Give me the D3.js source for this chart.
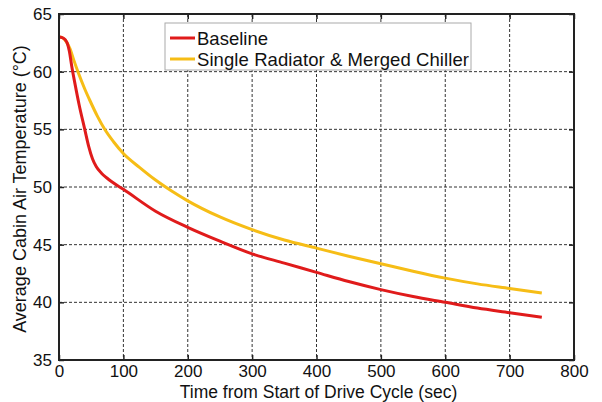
<!DOCTYPE html>
<meta charset="utf-8">
<head>
<script src="https://cdn.jsdelivr.net/npm/d3@7"></script>
</head>
<style>
  body { margin: 0; background: white; }
  text { font-family: "Liberation Sans", Arial, sans-serif; fill: #111; }
  .grid line { stroke: #333; stroke-dasharray: 3,2; stroke-width: 1; }
</style>
<body>
<div id="chart"></div>
<script>
// time (sec) and cabin air temperature (°C)
var baselineT = [0, 5, 10, 13, 16, 20, 25, 31, 40, 46, 52, 58, 66, 74, 82, 100, 150, 200, 250, 300, 350, 400, 450, 500, 550, 600, 650, 700, 750];
var baselineV = [63, 62.95, 62.75, 62.45, 61.8, 60.4, 58.9, 57.2, 55.0, 53.55, 52.45, 51.75, 51.2, 50.8, 50.45, 49.8, 47.9, 46.5, 45.3, 44.2, 43.4, 42.6, 41.8, 41.1, 40.5, 40.0, 39.5, 39.1, 38.7];
var mergedT = [0, 5, 10, 17, 23, 30, 40, 48, 60, 71, 85, 100, 125, 150, 175, 200, 250, 300, 350, 400, 450, 500, 550, 600, 650, 700, 750];
var mergedV = [63, 62.95, 62.7, 62.0, 61.0, 59.9, 58.5, 57.5, 56.1, 55.0, 53.9, 52.9, 51.7, 50.6, 49.65, 48.8, 47.4, 46.3, 45.4, 44.7, 44.0, 43.35, 42.7, 42.1, 41.6, 41.2, 40.8];
var xTicks = [0, 100, 200, 300, 400, 500, 600, 700, 800];
var yTicks = [35, 40, 45, 50, 55, 60, 65];
var seriesNames = ["Baseline", "Single Radiator & Merged Chiller"];
var seriesColors = ["#e01b1b", "#f6bd16"];

var W = 602, H = 402;
var margin = {top: 14, right: 28, bottom: 42, left: 59};
var width = W - margin.left - margin.right,
    height = H - margin.top - margin.bottom;

var svg = d3.select("#chart").append("svg")
  .attr("width", W).attr("height", H)
  .append("g")
  .attr("transform", "translate(" + margin.left + "," + margin.top + ")");

var x = d3.scaleLinear().domain([0, 800]).range([0, width]);
var y = d3.scaleLinear().domain([35, 65]).range([height, 0]);

// grid
var grid = svg.append("g").attr("class", "grid");
grid.selectAll(".vx").data(xTicks.slice(1, -1)).enter().append("line")
  .attr("x1", function(d) { return x(d); }).attr("x2", function(d) { return x(d); })
  .attr("y1", 0).attr("y2", height);
grid.selectAll(".hy").data(yTicks.slice(1, -1)).enter().append("line")
  .attr("y1", function(d) { return y(d); }).attr("y2", function(d) { return y(d); })
  .attr("x1", 0).attr("x2", width);

// axes with inward ticks
var xAxis = svg.append("g").attr("transform", "translate(0," + height + ")")
  .call(d3.axisBottom(x).tickValues(xTicks).tickSizeInner(-5).tickSizeOuter(0));
var xTop = svg.append("g")
  .call(d3.axisTop(x).tickValues(xTicks).tickSizeInner(-5).tickSizeOuter(0).tickFormat(""));
var yAxis = svg.append("g")
  .call(d3.axisLeft(y).tickValues(yTicks).tickSizeInner(-5).tickSizeOuter(0).tickPadding(7));
var yRight = svg.append("g").attr("transform", "translate(" + width + ",0)")
  .call(d3.axisRight(y).tickValues(yTicks).tickSizeInner(-5).tickSizeOuter(0).tickFormat(""));

[xAxis, xTop, yAxis, yRight].forEach(function(a) {
  a.select(".domain").remove();
  a.selectAll(".tick line").attr("stroke", "#222").attr("stroke-width", 1.5);
  a.selectAll("text").style("font-size", "17px").attr("fill", "#111");
});
xAxis.selectAll("text").attr("y", 0).attr("dy", "1.0em");

// lines
var line = d3.line()
  .x(function(d) { return x(d[0]); })
  .y(function(d) { return y(d[1]); })
  .curve(d3.curveMonotoneX);

var series = [
  d3.zip(baselineT, baselineV),
  d3.zip(mergedT, mergedV)
];

// draw merged first so baseline sits on top near start
[1, 0].forEach(function(i) {
  svg.append("path")
    .datum(series[i])
    .attr("fill", "none")
    .attr("stroke", seriesColors[i])
    .attr("stroke-width", 3)
    .attr("d", line);
});

// frame
svg.append("rect")
  .attr("width", width).attr("height", height)
  .attr("fill", "none").attr("stroke", "#222").attr("stroke-width", 2);

// legend
var lg = svg.append("g").attr("transform", "translate(" + (165 - margin.left) + "," + (23 - margin.top) + ")");
lg.append("rect").attr("width", 306).attr("height", 47)
  .attr("fill", "white").attr("stroke", "#aaa").attr("stroke-width", 1);
seriesNames.forEach(function(name, i) {
  var cy = 15 + i * 21;
  lg.append("line").attr("x1", 5).attr("x2", 30).attr("y1", cy).attr("y2", cy)
    .attr("stroke", seriesColors[i]).attr("stroke-width", 3);
  lg.append("text").attr("x", 32).attr("y", cy).attr("dy", "0.36em")
    .style("font-size", "18.5px").attr("textLength", i === 1 ? 272 : null).text(name);
});

// axis titles
svg.append("text")
  .attr("x", width / 2 + 2).attr("y", height + 38)
  .attr("text-anchor", "middle").style("font-size", "17.5px")
  .text("Time from Start of Drive Cycle (sec)");
svg.append("text")
  .attr("transform", "translate(" + (-33) + "," + (height / 2 + 2) + ") rotate(-90)")
  .attr("text-anchor", "middle").style("font-size", "18px")
  .text("Average Cabin Air Temperature (°C)");
</script>
</body>
